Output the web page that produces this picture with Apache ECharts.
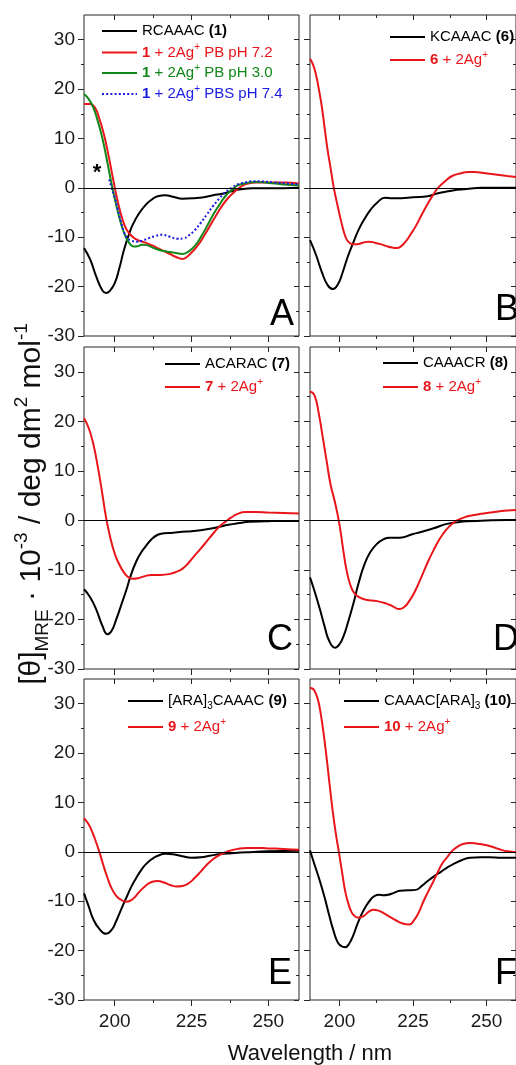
<!DOCTYPE html>
<html><head><meta charset="utf-8">
<script src="https://cdn.jsdelivr.net/npm/echarts@6/dist/echarts.min.js"></script>
<style>html,body{margin:0;padding:0;background:#fff}#c{width:516px;height:1065px}</style>
</head><body><div id="c"></div>
<script>
const FONT = "'Liberation Sans', Arial, Helvetica, sans-serif";

// ---- tick values ----
const xMajorTicks = [200, 225, 250];
const xMinorTicks = [212.5, 237.5];
const yMajorTicks = [-30, -20, -10, 0, 10, 20, 30];
const yMinorTicks = [-25, -15, -5, 5, 15, 25];

// ---- data: [wavelength nm, [theta]MRE x 10^-3] ----
const A_RCAAAC = [[190,-12.2],[192,-14.5],[194,-18],[196,-20.8],[197.2,-21.3],[198.5,-20.8],[200,-19.3],[201.5,-16.3],[203,-12.6],[204.7,-9.3],[206,-7.3],[208,-5.1],[210,-3.5],[212,-2.4],[214,-1.7],[216.5,-1.5],[219,-1.8],[222,-2.2],[226,-2.1],[229,-1.9],[232,-1.5],[235,-1.2],[238,-0.7],[241,-0.3],[245,-0.1],[250,-0.1],[255,-0.1],[260,0]];
const A_PB72 = [[190,17],[192,17],[193.5,16.3],[195,14],[196.5,10.8],[198,6.5],[199.5,1.7],[201,-2.8],[202.5,-6.3],[204,-8.6],[206,-10],[208,-10.7],[210,-11.1],[212,-11.6],[214,-12.2],[216,-12.8],[218,-13.4],[220,-14],[222,-14.4],[223.5,-14],[225,-13.1],[227,-11.7],[229,-9.8],[231,-7.7],[233,-5.6],[235,-3.6],[237,-2],[239,-0.8],[241,0.2],[243,0.8],[246,1.1],[250,1.1],[255,1.1],[260,0.9]];
const A_PB30 = [[190,19],[191.5,18],[193,16.3],[194.5,13.5],[196,10],[197.5,5.5],[199,0.7],[200.5,-3.5],[202,-7.1],[203.5,-9.8],[205,-11.4],[206.3,-11.9],[207.5,-11.8],[209,-11.5],[210.5,-11.6],[212,-12],[214,-12.5],[216,-12.8],[218,-13],[220,-13.2],[222,-13.4],[224,-12.9],[226,-11.8],[228,-10],[230,-7.8],[232,-5.5],[234,-3.5],[236,-1.7],[238,-0.5],[240,0.5],[243,1],[246,1.2],[250,1],[255,0.7],[260,0.5]];
const A_PBS74 = [[198.2,1.7],[199,0],[200,-1.9],[201,-4.3],[202,-6.8],[203,-8.9],[204,-10.1],[205.5,-10.7],[207,-10.9],[209,-10.7],[211,-10.2],[213,-9.8],[215.5,-9.5],[218,-9.9],[220.5,-10.3],[222.5,-10.2],[224,-9.7],[226,-8.6],[228,-7.1],[230,-5.4],[232,-3.7],[234,-2.2],[236,-0.9],[238,0],[240,0.7],[242.5,1.1],[245,1.35],[248,1.3],[252,1.1],[256,0.9],[260,0.7]];

const B_KCAAAC = [[190,-10.6],[192,-13.5],[194,-17],[196,-19.7],[197.8,-20.5],[199.5,-19.5],[201,-17.3],[202.8,-14],[204.7,-11.1],[206.5,-8.5],[208.5,-6.3],[210.5,-4.5],[212.8,-3],[215.5,-2],[218,-2.1],[221,-2.1],[225,-1.9],[230,-1.7],[233.5,-1.1],[237,-0.7],[240,-0.4],[244,-0.2],[248,0],[254,0],[260,0]];
const B_Ag = [[190,26.1],[191,25],[192,23],[193,20],[194,16.5],[195,12],[196,7.6],[197,4],[198,0.3],[199,-2.6],[200,-5.3],[201,-7.8],[202,-9.8],[203,-10.9],[204.5,-11.4],[206,-11.4],[208,-11.1],[210,-10.9],[212,-11.1],[214,-11.4],[216,-11.8],[218,-12.1],[219.5,-12.2],[221,-11.8],[222.6,-10.8],[224,-9.6],[226,-7.7],[228,-5.4],[230.2,-3],[232,-1.3],[233.5,0],[236,1.4],[238.3,2.4],[241,2.9],[243.7,3.2],[246,3.2],[249,3],[253,2.7],[257,2.4],[260,2.2]];

const C_ACARAC = [[190,-13.9],[192,-15.5],[194,-18],[196,-21.3],[197.7,-23],[199,-22.3],[200.5,-20],[202,-17.3],[203.7,-14.2],[205.3,-11],[207,-8.3],[208.5,-6.6],[210,-5.3],[212,-3.8],[214,-2.9],[216,-2.6],[219,-2.5],[222,-2.3],[225,-2.2],[228,-2],[231,-1.7],[234,-1.3],[237,-0.9],[240,-0.6],[244,-0.3],[249,-0.2],[254,-0.1],[260,-0.1]];
const C_Ag = [[190,20.6],[191.5,18.7],[193,15.5],[194.5,10.8],[195.8,6],[197.2,0.5],[198.5,-3.3],[200,-6.7],[201.5,-8.9],[203,-10.5],[204.5,-11.5],[206,-11.8],[207.5,-11.7],[209.5,-11.3],[212,-11],[215,-11],[218,-10.8],[220,-10.4],[222,-9.8],[224,-8.6],[226,-7.1],[228,-5.7],[230,-4.2],[232,-2.7],[234,-1.3],[236,-0.3],[238,0.6],[240,1.3],[242.5,1.7],[246,1.7],[250,1.6],[255,1.5],[260,1.4]];

const D_CAAACR = [[190,-11.5],[191.5,-14.2],[193.3,-17.8],[195,-21.5],[196.5,-24.3],[198.5,-25.7],[200,-25],[201.5,-23.2],[203,-20.4],[204.7,-16.9],[206.5,-12.7],[208.5,-8.9],[210.5,-6.4],[212.8,-4.7],[215,-3.8],[217,-3.5],[220.5,-3.5],[224.8,-2.8],[228,-2.3],[232,-1.6],[236.5,-0.7],[240,-0.4],[243.5,-0.2],[250,0],[257,0.1],[260,0.1]];
const D_Ag = [[190,26],[191.5,25.3],[193,21.5],[194.3,16.9],[195.7,11.8],[197,7.2],[198.5,3.6],[200,-0.8],[201.3,-6],[202.5,-10.3],[203.8,-13.2],[205.2,-14.8],[207,-15.6],[209,-16],[212.8,-16.3],[216,-16.8],[218,-17.3],[220.4,-17.9],[222,-17.5],[223.7,-16.3],[225.5,-14.5],[227,-12.6],[228.6,-10.4],[230.2,-8.2],[232,-6],[233.5,-4.3],[235,-2.9],[236.7,-1.6],[238.5,-0.6],[240,0],[242,0.5],[244,0.9],[247,1.2],[250,1.5],[254,1.8],[257,2],[260,2.1]];

const E_ARA3CAAAC = [[190,-8.4],[191.5,-11],[193,-13.6],[195,-15.6],[197.2,-16.6],[199,-15.8],[200.5,-14],[202,-11.8],[203.7,-9.4],[205.3,-7.2],[207,-5.3],[208.5,-3.8],[210,-2.6],[212,-1.5],[214,-0.8],[216.5,-0.4],[219,-0.5],[222,-0.9],[225,-1.2],[228,-1.1],[231,-0.8],[234,-0.5],[238,-0.3],[243,-0.1],[250,0.1],[260,0.2]];
const E_Ag = [[190,6.8],[191.5,5.6],[192.5,4.3],[193.5,2.7],[195,0],[196.2,-2.5],[197.5,-5],[199,-7.4],[200.5,-8.9],[202,-9.7],[203.7,-10.1],[205,-9.9],[206.5,-9.2],[208,-8.1],[210,-6.9],[212,-6.1],[214,-5.9],[216,-6.2],[218,-6.7],[220,-7],[222,-6.9],[224,-6.4],[226,-5.3],[228,-4],[230,-2.6],[232,-1.5],[234,-0.7],[236,-0.1],[238,0.3],[240,0.6],[243,0.8],[246,0.8],[250,0.7],[255,0.6],[260,0.4]];

const F_CAAACARA3 = [[190,0.3],[191.5,-2.5],[193.3,-5.8],[195,-9.3],[196.5,-12.8],[198,-16],[199.5,-18.4],[201,-19.2],[202,-19.3],[203.3,-18.6],[204.7,-16.9],[206,-14.8],[207.4,-12.8],[209,-11],[210.7,-9.6],[212,-8.9],[213.5,-8.7],[215,-8.8],[216.5,-8.7],[218.5,-8.3],[220.5,-7.9],[223,-7.8],[225.9,-7.7],[228,-6.9],[230.2,-5.8],[232.5,-4.8],[234.6,-4],[236.8,-3.1],[238.9,-2.4],[241.5,-1.7],[244.3,-1.2],[248,-1.1],[251,-1.1],[255,-1.2],[260,-1.2]];
const F_Ag = [[190,33.2],[191,33],[191.8,32.3],[192.7,30.8],[193.5,28.5],[194.5,24.5],[195.4,20.3],[196.5,14.5],[197.6,8.8],[198.7,4],[199.8,0],[201,-4.5],[202,-8.1],[203,-10.4],[204.1,-12.2],[205.2,-13],[206.3,-13.3],[207.5,-13.2],[208.5,-12.9],[210,-12.1],[211.7,-11.7],[213.3,-11.9],[215,-12.4],[217,-13.1],[219.3,-13.9],[221.5,-14.5],[223.7,-14.7],[225.3,-13.9],[227,-12.2],[228.5,-10.1],[230.2,-8],[232,-5.9],[233.5,-4],[235,-2.3],[236.7,-1],[238.3,0.2],[240,1],[242,1.6],[244.3,1.8],[246.5,1.7],[248.7,1.5],[251,1.2],[253,0.8],[255,0.4],[257.2,0.1],[260,-0.1]];

// ---- colours ----
const BLACK = '#000000', RED = '#e8161b', GREEN = '#12871a', BLUE = '#1c1ce0';

// ---- layout ----
const grids = [
  {left: 84, top: 15, width: 215, height: 321},
  {left: 310, top: 15, width: 214, height: 321},
  {left: 84, top: 347, width: 215, height: 322},
  {left: 310, top: 347, width: 214, height: 322},
  {left: 84, top: 679, width: 215, height: 321},
  {left: 310, top: 679, width: 214, height: 321}
];

const tickStyle = {color: '#262626', width: 1};
function xAx(g, pos, values, len, inside, labels) {
  return {
    type: 'value', gridIndex: g, position: pos, min: 190, max: 260,
    axisLine: {show: false, onZero: false}, splitLine: {show: false},
    axisTick: {show: true, inside: inside, length: len, customValues: values, lineStyle: tickStyle},
    axisLabel: labels ? {show: true, customValues: values, fontSize: 19, fontFamily: FONT, color: '#1a1a1a', margin: 12} : {show: false}
  };
}
function yAx(g, pos, values, len, inside, labels) {
  return {
    type: 'value', gridIndex: g, position: pos, min: -30, max: 35,
    axisLine: {show: false, onZero: false}, splitLine: {show: false},
    axisTick: {show: true, inside: inside, length: len, customValues: values, lineStyle: tickStyle},
    axisLabel: labels ? {show: true, customValues: values, fontSize: 19, fontFamily: FONT, color: '#1a1a1a', margin: 9} : {show: false}
  };
}

const xAxes = [], yAxes = [];
grids.forEach((gr, g) => {
  const bottomRow = g >= 4, leftCol = g % 2 === 0;
  xAxes.push(xAx(g, 'bottom', xMajorTicks, 6, false, bottomRow));
  xAxes.push(xAx(g, 'bottom', xMinorTicks, 3, false, false));
  xAxes.push(xAx(g, 'top', xMajorTicks, 5, true, false));
  xAxes.push(xAx(g, 'top', xMinorTicks, 3, true, false));
  yAxes.push(yAx(g, 'left', yMajorTicks, 6, false, leftCol));
  yAxes.push(yAx(g, 'left', yMinorTicks, 3, false, false));
  yAxes.push(yAx(g, 'right', yMajorTicks, 5, true, false));
  yAxes.push(yAx(g, 'right', yMinorTicks, 3, true, false));
});

function ser(name, data, g, color, dotted, zero) {
  const s = {
    type: 'line', name: name, data: data, xAxisIndex: 4 * g, yAxisIndex: 4 * g,
    symbol: 'none', smooth: 0.5, animation: false, silent: true,
    lineStyle: {color: color, width: 2, type: dotted ? [2, 2.2] : 'solid'},
    itemStyle: {color: color}
  };
  if (zero) {
    s.markLine = {silent: true, symbol: 'none', animation: false, label: {show: false},
      lineStyle: {color: '#000', width: 1, type: 'solid'}, data: [{yAxis: 0}]};
  }
  return s;
}

const series = [
  ser('RCAAAC (1)', A_RCAAAC, 0, BLACK, false, true),
  ser('1 + 2Ag+ PB pH 7.2', A_PB72, 0, RED),
  ser('1 + 2Ag+ PB pH 3.0', A_PB30, 0, GREEN),
  ser('1 + 2Ag+ PBS pH 7.4', A_PBS74, 0, BLUE, true),
  ser('KCAAAC (6)', B_KCAAAC, 1, BLACK, false, true),
  ser('6 + 2Ag+', B_Ag, 1, RED),
  ser('ACARAC (7)', C_ACARAC, 2, BLACK, false, true),
  ser('7 + 2Ag+', C_Ag, 2, RED),
  ser('CAAACR (8)', D_CAAACR, 3, BLACK, false, true),
  ser('8 + 2Ag+', D_Ag, 3, RED),
  ser('[ARA]3CAAAC (9)', E_ARA3CAAAC, 4, BLACK, false, true),
  ser('9 + 2Ag+', E_Ag, 4, RED),
  ser('CAAAC[ARA]3 (10)', F_CAAACARA3, 5, BLACK, false, true),
  ser('10 + 2Ag+', F_Ag, 5, RED)
];

// legend label rich text
const legendText = {
  'RCAAAC (1)': '{n|RCAAAC }{b|(1)}',
  '1 + 2Ag+ PB pH 7.2': '{b|1}{n| + 2Ag}{s|+}{n| PB pH 7.2}',
  '1 + 2Ag+ PB pH 3.0': '{b|1}{n| + 2Ag}{s|+}{n| PB pH 3.0}',
  '1 + 2Ag+ PBS pH 7.4': '{b|1}{n| + 2Ag}{s|+}{n| PBS pH 7.4}',
  'KCAAAC (6)': '{n|KCAAAC }{b|(6)}',
  '6 + 2Ag+': '{b|6}{n| + 2Ag}{s|+}',
  'ACARAC (7)': '{n|ACARAC }{b|(7)}',
  '7 + 2Ag+': '{b|7}{n| + 2Ag}{s|+}',
  'CAAACR (8)': '{n|CAAACR }{b|(8)}',
  '8 + 2Ag+': '{b|8}{n| + 2Ag}{s|+}',
  '[ARA]3CAAAC (9)': '{n|[ARA]}{d|3}{n|CAAAC }{b|(9)}',
  '9 + 2Ag+': '{b|9}{n| + 2Ag}{s|+}',
  'CAAAC[ARA]3 (10)': '{n|CAAAC[ARA]}{d|3}{n| }{b|(10)}',
  '10 + 2Ag+': '{b|10}{n| + 2Ag}{s|+}'
};
function rich(c) {
  return {
    n: {color: c, fontSize: 15, fontFamily: FONT, lineHeight: 20},
    b: {color: c, fontSize: 15, fontFamily: FONT, fontWeight: 'bold', lineHeight: 20},
    s: {color: c, fontSize: 10, fontFamily: FONT, lineHeight: 11, verticalAlign: 'top'},
    d: {color: c, fontSize: 10, fontFamily: FONT, lineHeight: 11, verticalAlign: 'bottom'}
  };
}
function leg(name, color, left, cy) {
  return {
    data: [name], left: left, top: cy - 10, orient: 'vertical', padding: 0,
    itemWidth: 35, itemHeight: 20, selectedMode: false,
    itemStyle: {color: 'rgba(0,0,0,0)', borderColor: 'rgba(0,0,0,0)', borderWidth: 0, opacity: 0},
    formatter: function (nm) { return legendText[nm]; },
    textStyle: {color: color, fontSize: 15, fontFamily: FONT, rich: rich(color)}
  };
}
const legends = [
  leg('RCAAAC (1)', BLACK, 101, 33),
  leg('1 + 2Ag+ PB pH 7.2', RED, 101, 52.5),
  leg('1 + 2Ag+ PB pH 3.0', GREEN, 101, 73),
  leg('1 + 2Ag+ PBS pH 7.4', BLUE, 101, 94),
  leg('KCAAAC (6)', BLACK, 389, 39),
  leg('6 + 2Ag+', RED, 389, 60),
  leg('ACARAC (7)', BLACK, 164, 366),
  leg('7 + 2Ag+', RED, 164, 387),
  leg('CAAACR (8)', BLACK, 382, 365),
  leg('8 + 2Ag+', RED, 382, 387),
  leg('[ARA]3CAAAC (9)', BLACK, 127, 703),
  leg('9 + 2Ag+', RED, 127, 727),
  leg('CAAAC[ARA]3 (10)', BLACK, 343, 703),
  leg('10 + 2Ag+', RED, 343, 727)
];

// panel letters
const panelLetters = ['A', 'B', 'C', 'D', 'E', 'F'];
const letterPos = [[294, 315.5], [519, 310], [293, 640], [519, 640], [292, 974], [517, 974]];
const graphics = panelLetters.map((t, i) => ({
  type: 'text', x: letterPos[i][0], y: letterPos[i][1], silent: true,
  style: {text: t, fill: '#000', font: '36px ' + FONT, textAlign: 'right', textVerticalAlign: 'middle'}
}));
graphics.push({type: 'text', x: 97, y: 173, silent: true,
  style: {text: '*', fill: '#000', font: 'bold 22px ' + FONT, textAlign: 'center', textVerticalAlign: 'middle'}});
graphics.push({type: 'text', x: 310, y: 1054, silent: true,
  style: {text: 'Wavelength / nm', fill: '#111', font: '22px ' + FONT, textAlign: 'center', textVerticalAlign: 'middle'}});
graphics.push({type: 'text', x: 32, y: 504, rotation: Math.PI / 2, silent: true,
  style: {
    text: '{m|[θ]}{d|MRE}{m| · 10}{s|-3}{m| / deg dm}{s|2}{m| mol}{s|-1}',
    textAlign: 'center', textVerticalAlign: 'middle', fill: '#111', font: '30px ' + FONT,
    rich: {
      m: {fontSize: 30, fontFamily: FONT, fill: '#111', lineHeight: 40},
      s: {fontSize: 19, fontFamily: FONT, fill: '#111', lineHeight: 19, verticalAlign: 'top'},
      d: {fontSize: 19, fontFamily: FONT, fill: '#111', lineHeight: 19, verticalAlign: 'bottom'}
    }
  }});

const chart = echarts.init(document.getElementById('c'), null, {renderer: 'canvas'});
chart.setOption({
  backgroundColor: '#fff',
  animation: false,
  grid: grids.map(g => Object.assign({show: true, borderColor: '#262626', borderWidth: 1, backgroundColor: 'transparent', containLabel: false}, g)),
  xAxis: xAxes,
  yAxis: yAxes,
  legend: legends,
  series: series,
  graphic: graphics
});
</script></body></html>
